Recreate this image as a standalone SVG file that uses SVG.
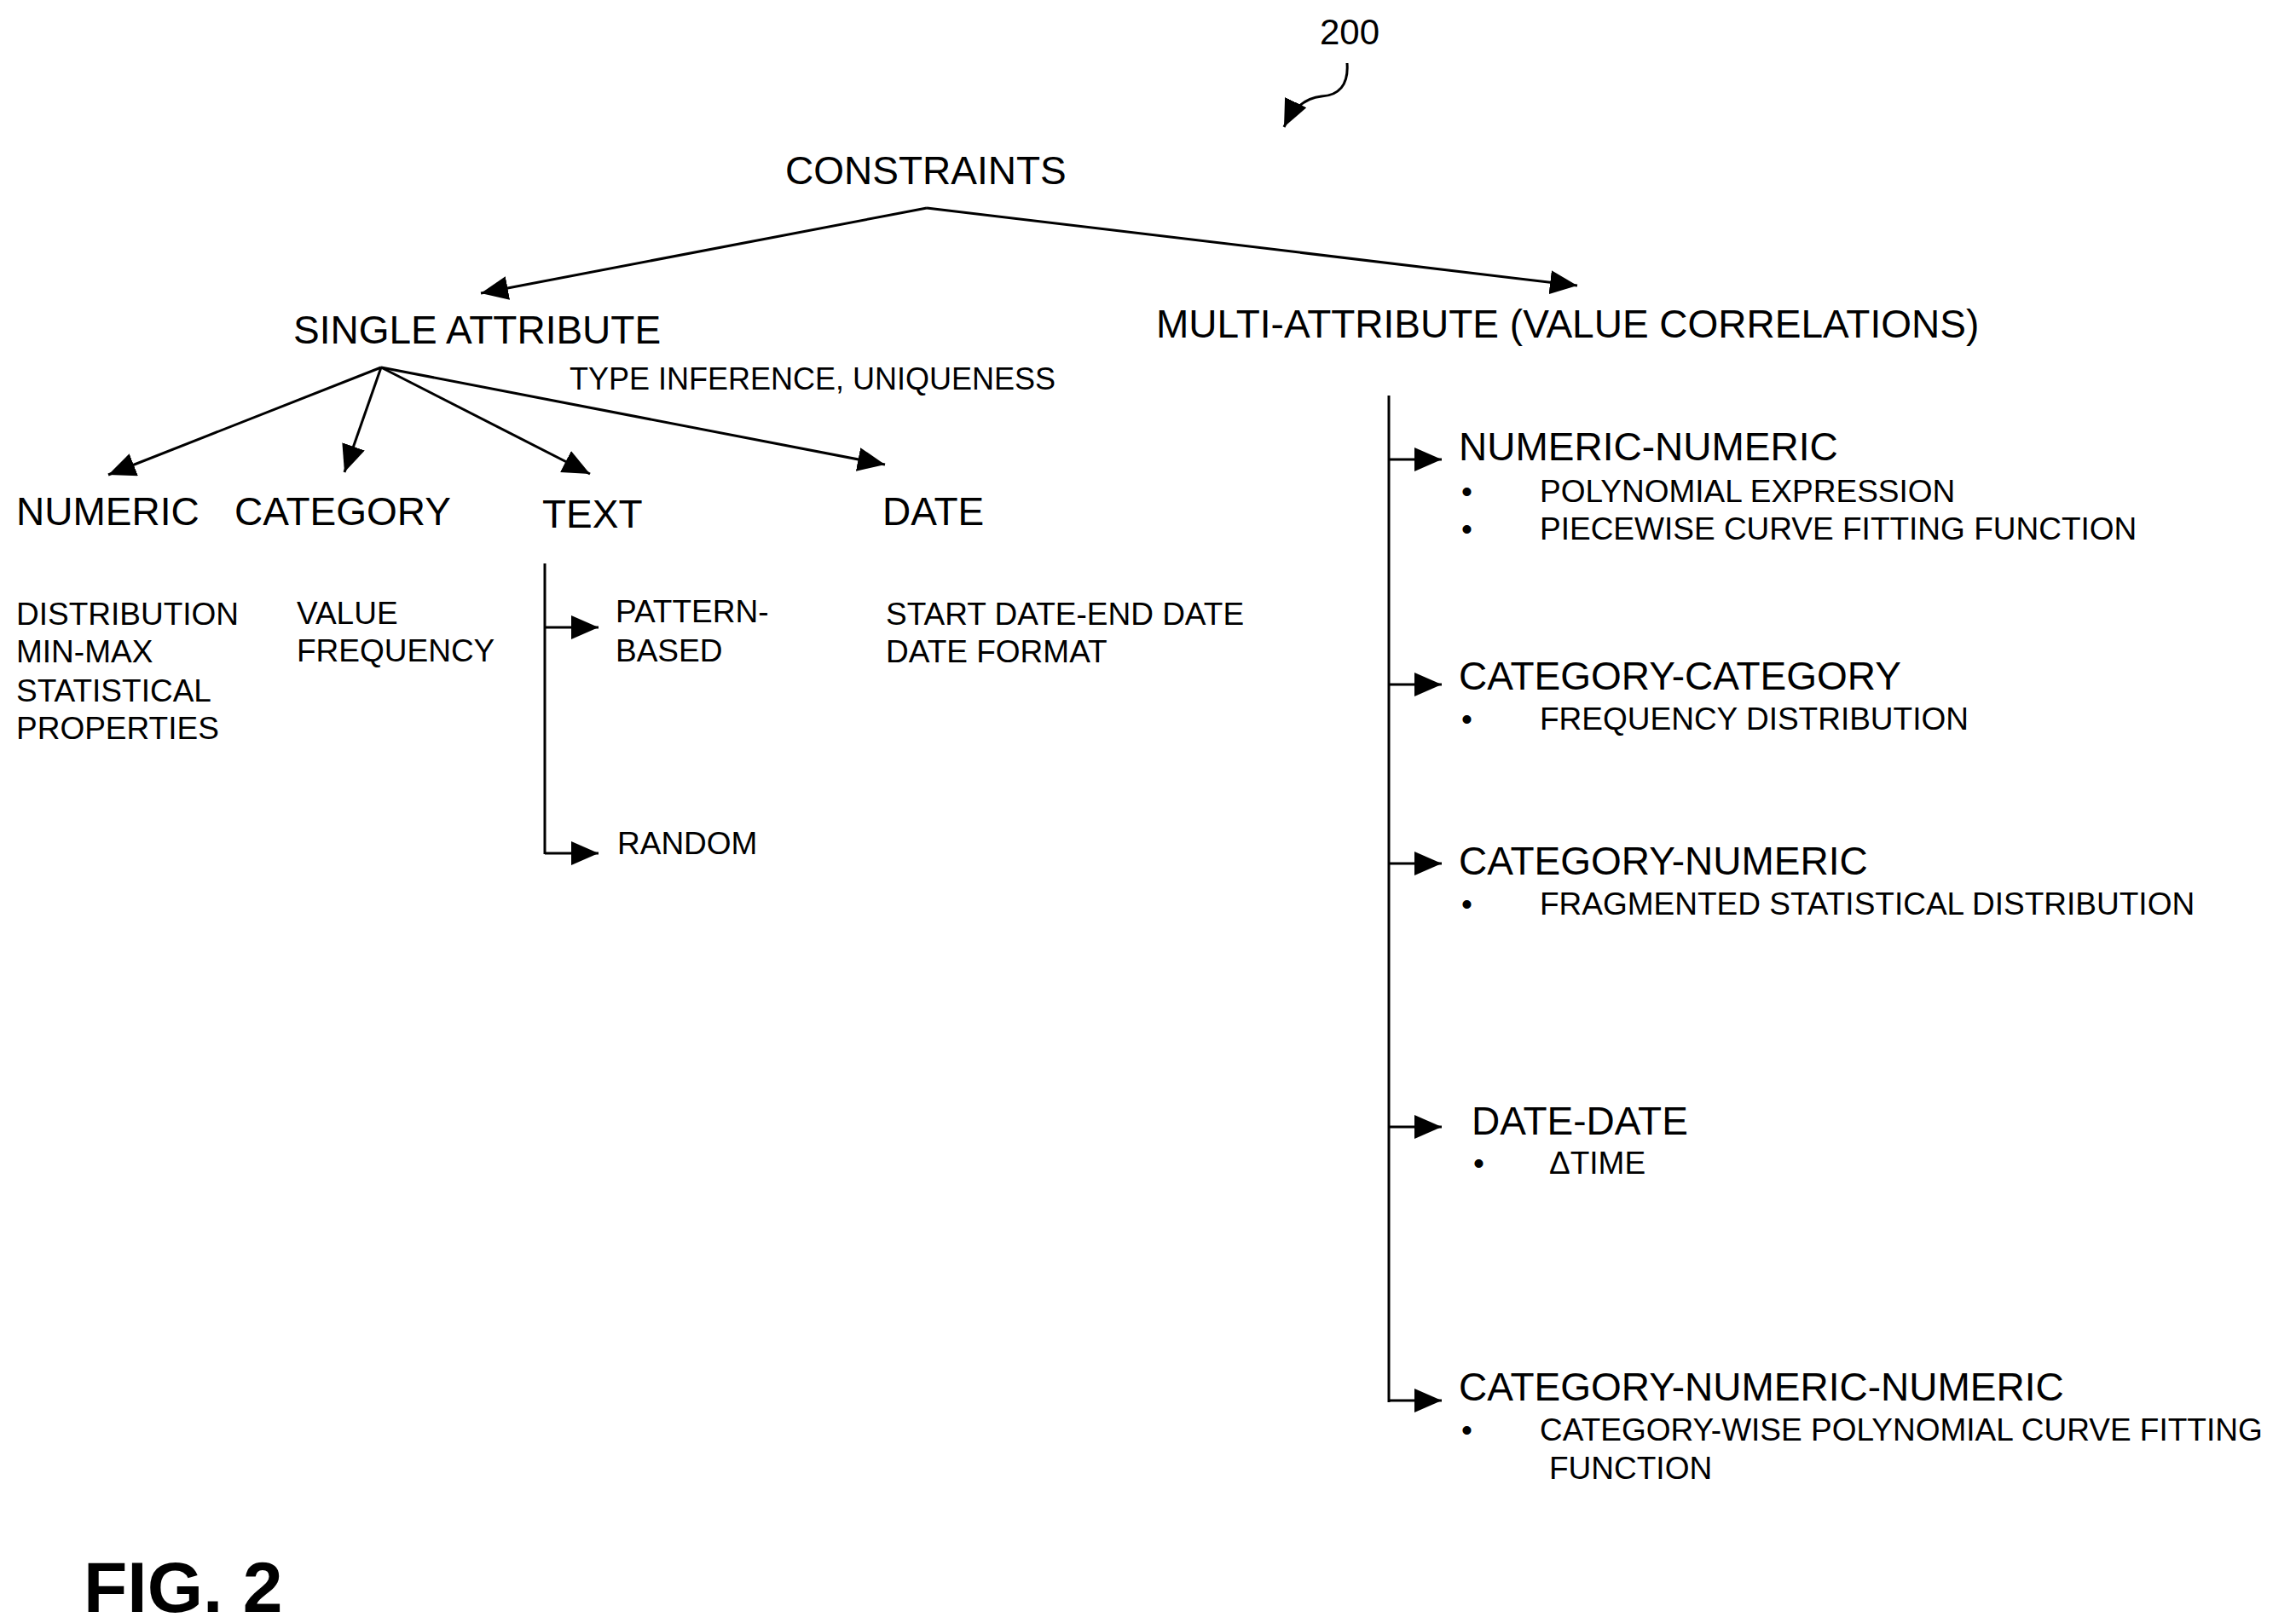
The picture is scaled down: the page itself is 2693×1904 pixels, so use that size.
<svg xmlns="http://www.w3.org/2000/svg" width="2693" height="1904" viewBox="0 0 2693 1904">
<defs>
<marker id="ah" markerUnits="userSpaceOnUse" markerWidth="34" markerHeight="28" refX="32" refY="14" orient="auto">
<path d="M0,0 L32,14 L0,28 Z" fill="#000"/>
</marker>
</defs>
<style>
text{font-family:"Liberation Sans",Arial,sans-serif;fill:#000}
.h{font-size:46px}
.s{font-size:37px}
.c line,.c path{stroke:#000;stroke-width:3;fill:none}
.a{marker-end:url(#ah)}
</style>
<rect width="2693" height="1904" fill="#fff"/>
<g class="c" id="connectors">
<path class="a" d="M1580,74 C1582,100 1570,112 1550,113 C1530,115 1516,128 1506,149"/>
<line class="a" x1="1087" y1="244" x2="564" y2="344"/>
<line class="a" x1="1087" y1="244" x2="1850" y2="335"/>
<line class="a" x1="447" y1="431" x2="127" y2="557"/>
<line class="a" x1="447" y1="431" x2="404" y2="554"/>
<line class="a" x1="447" y1="431" x2="692" y2="556"/>
<line class="a" x1="447" y1="431" x2="1038" y2="545"/>
<line x1="639" y1="661" x2="639" y2="1002"/>
<line class="a" x1="639" y1="736" x2="702" y2="736"/>
<line class="a" x1="639" y1="1001" x2="702" y2="1001"/>
<line x1="1629" y1="464" x2="1629" y2="1645"/>
<line class="a" x1="1629" y1="539" x2="1691" y2="539"/>
<line class="a" x1="1629" y1="803" x2="1691" y2="803"/>
<line class="a" x1="1629" y1="1013" x2="1691" y2="1013"/>
<line class="a" x1="1629" y1="1322" x2="1691" y2="1322"/>
<line class="a" x1="1629" y1="1643" x2="1691" y2="1643"/>
</g>
<g id="ref200"><text x="1548" y="52" style="font-size:42px">200</text></g>
<g id="constraints"><text class="h" x="921" y="216">CONSTRAINTS</text></g>
<g id="single"><text class="h" x="344" y="403">SINGLE ATTRIBUTE</text>
<text x="668" y="457" style="font-size:36px">TYPE INFERENCE, UNIQUENESS</text></g>
<g id="multi"><text class="h" x="1356" y="396">MULTI-ATTRIBUTE (VALUE CORRELATIONS)</text></g>
<g id="numeric"><text class="h" x="19" y="616">NUMERIC</text>
<text class="s" x="19" y="733">DISTRIBUTION</text><text class="s" x="19" y="777">MIN-MAX</text><text class="s" x="19" y="823">STATISTICAL</text><text class="s" x="19" y="867">PROPERTIES</text></g>
<g id="category"><text class="h" x="275" y="616">CATEGORY</text>
<text class="s" x="348" y="732">VALUE</text><text class="s" x="348" y="776">FREQUENCY</text></g>
<g id="text"><text class="h" x="636" y="619">TEXT</text></g>
<g id="pattern"><text class="s" x="722" y="730">PATTERN-</text><text class="s" x="722" y="776">BASED</text></g>
<g id="random"><text class="s" x="724" y="1002">RANDOM</text></g>
<g id="date"><text class="h" x="1035" y="616">DATE</text>
<text class="s" x="1039" y="733">START DATE-END DATE</text><text class="s" x="1039" y="777">DATE FORMAT</text></g>
<g id="nn"><text class="h" x="1711" y="540">NUMERIC-NUMERIC</text>
<text class="s" x="1714" y="589">•</text><text class="s" x="1806" y="589">POLYNOMIAL EXPRESSION</text>
<text class="s" x="1714" y="633">•</text><text class="s" x="1806" y="633">PIECEWISE CURVE FITTING FUNCTION</text></g>
<g id="cc"><text class="h" x="1711" y="809">CATEGORY-CATEGORY</text>
<text class="s" x="1714" y="856">•</text><text class="s" x="1806" y="856">FREQUENCY DISTRIBUTION</text></g>
<g id="cn"><text class="h" x="1711" y="1026">CATEGORY-NUMERIC</text>
<text class="s" x="1714" y="1073">•</text><text class="s" x="1806" y="1073">FRAGMENTED STATISTICAL DISTRIBUTION</text></g>
<g id="dd"><text class="h" x="1726" y="1331">DATE-DATE</text>
<text class="s" x="1728" y="1377">•</text><text class="s" x="1817" y="1377">ΔTIME</text></g>
<g id="cnn"><text class="h" x="1711" y="1643">CATEGORY-NUMERIC-NUMERIC</text>
<text class="s" x="1714" y="1690">•</text><text class="s" x="1806" y="1690">CATEGORY-WISE POLYNOMIAL CURVE FITTING</text>
<text class="s" x="1817" y="1735">FUNCTION</text></g>
<g id="fig"><text x="98" y="1891" style="font-size:84px;font-weight:bold">FIG. 2</text></g>
</svg>
